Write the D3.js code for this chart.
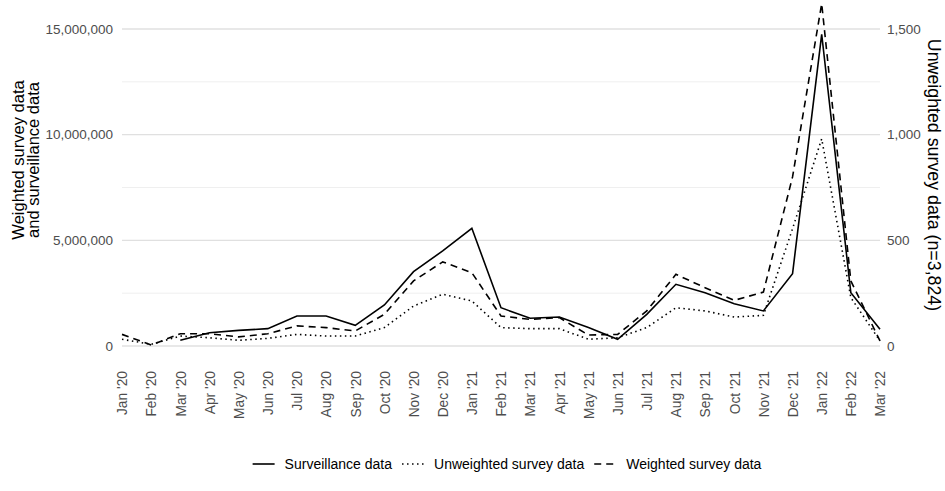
<!DOCTYPE html>
<html>
<head>
<meta charset="utf-8">
<script src="https://cdn.jsdelivr.net/npm/d3@7"></script>
<style>
  body { margin: 0; background: #fff; }
  svg { font-family: "Liberation Sans", Arial, sans-serif; }
</style>
</head>
<body>
<div id="chart"></div>
<script>
// months on the x axis
const months = ["Jan '20","Feb '20","Mar '20","Apr '20","May '20","Jun '20","Jul '20","Aug '20","Sep '20","Oct '20","Nov '20","Dec '20",
  "Jan '21","Feb '21","Mar '21","Apr '21","May '21","Jun '21","Jul '21","Aug '21","Sep '21","Oct '21","Nov '21","Dec '21",
  "Jan '22","Feb '22","Mar '22"];

// surveillance data (left axis), starts Mar '20
const surveillance = [null, null, 270000, 630000, 740000, 820000, 1420000, 1420000, 980000, 1940000, 3520000, 4500000,
  5570000, 1810000, 1310000, 1370000, 870000, 320000, 1500000, 2920000, 2520000, 2000000, 1660000, 3420000,
  14750000, 2520000, 790000];

// weighted survey data (left axis)
const weighted = [550000, 50000, 580000, 580000, 430000, 580000, 950000, 870000, 710000, 1500000, 3080000, 3980000,
  3470000, 1420000, 1260000, 1340000, 520000, 550000, 1660000, 3390000, 2760000, 2160000, 2550000, 8000000,
  16200000, 3080000, 240000];

// unweighted survey data (right axis, n=3,824)
const unweighted = [32, 8, 47, 39, 27, 36, 55, 47, 47, 87, 189, 245,
  213, 87, 82, 82, 32, 39, 87, 181, 166, 137, 145, 555,
  980, 229, 24];

const leftTicks = [0, 5000000, 10000000, 15000000];
const rightTicks = [0, 500, 1000, 1500];
const minorTicks = [2500000, 7500000, 12500000];

const legendItems = [
  {label: "Surveillance data", dash: null},
  {label: "Unweighted survey data", dash: "1.5,3.5"},
  {label: "Weighted survey data", dash: "7,5"}
];

const W = 945, H = 491;
const svg = d3.select("#chart").append("svg")
  .attr("width", W).attr("height", H);

const x = d3.scalePoint().domain(months).range([122, 880]);
const y = d3.scaleLinear().domain([0, 15000000]).range([346, 29]);
const yR = d3.scaleLinear().domain([0, 1500]).range([346, 29]);

// gridlines
svg.selectAll(".minor")
  .data(minorTicks)
  .join("line")
  .attr("x1", 122).attr("x2", 880)
  .attr("y1", d => y(d)).attr("y2", d => y(d))
  .attr("stroke", "#ebebeb").attr("stroke-width", 0.8);

svg.selectAll(".major")
  .data(leftTicks)
  .join("line")
  .attr("x1", 122).attr("x2", 880)
  .attr("y1", d => y(d)).attr("y2", d => y(d))
  .attr("stroke", "#e0e0e0").attr("stroke-width", 1.3);

// left axis
svg.append("g")
  .attr("transform", "translate(122,0)")
  .call(d3.axisLeft(y).tickValues(leftTicks).tickFormat(d3.format(",")).tickSize(0).tickPadding(9))
  .call(g => g.select(".domain").remove())
  .selectAll("text")
  .style("font-size", "13.5px")
  .style("font-family", "Liberation Sans, Arial, sans-serif")
  .attr("fill", "#4d4d4d");

// right axis
svg.append("g")
  .attr("transform", "translate(880,0)")
  .call(d3.axisRight(yR).tickValues(rightTicks).tickFormat(d3.format(",")).tickSize(0).tickPadding(7))
  .call(g => g.select(".domain").remove())
  .selectAll("text")
  .style("font-size", "13.5px")
  .style("font-family", "Liberation Sans, Arial, sans-serif")
  .attr("fill", "#4d4d4d");

// x axis labels, rotated
svg.append("g")
  .attr("transform", "translate(0,360)")
  .call(d3.axisBottom(x).tickSize(0).tickPadding(0))
  .call(g => g.select(".domain").remove())
  .selectAll("text")
  .style("font-size", "13.8px")
  .style("font-family", "Liberation Sans, Arial, sans-serif")
  .attr("fill", "#4d4d4d")
  .attr("text-anchor", "end")
  .attr("transform", "rotate(-90)")
  .attr("x", -11)
  .attr("y", 0)
  .attr("dy", "0.35em");

// lines
const line = d3.line()
  .defined(d => d != null)
  .x((d, i) => x(months[i]));

svg.append("path")
  .datum(surveillance)
  .attr("fill", "none").attr("stroke", "#000").attr("stroke-width", 1.6)
  .attr("d", line.y(d => y(d)));

svg.append("path")
  .datum(unweighted)
  .attr("fill", "none").attr("stroke", "#000").attr("stroke-width", 1.6)
  .attr("stroke-dasharray", "1.5,3.5")
  .attr("d", line.y(d => yR(d)));

svg.append("path")
  .datum(weighted)
  .attr("fill", "none").attr("stroke", "#000").attr("stroke-width", 1.6)
  .attr("stroke-dasharray", "7,5")
  .attr("d", line.y(d => y(d)));

// axis titles
const leftTitle = svg.append("text")
  .attr("transform", "translate(0,160) rotate(-90)")
  .attr("text-anchor", "middle")
  .style("font-size", "16.5px")
  .attr("fill", "#000");
leftTitle.append("tspan").attr("x", 0).attr("y", 24).text("Weighted survey data");
leftTitle.append("tspan").attr("x", 0).attr("y", 39).text("and surveillance data");

svg.append("text")
  .attr("transform", "translate(928,175) rotate(90)")
  .attr("text-anchor", "middle")
  .style("font-size", "17.8px")
  .attr("fill", "#000")
  .text("Unweighted survey data (n=3,824)");

// legend
const legend = svg.append("g").attr("transform", "translate(0,464)");
const items = legend.selectAll("g")
  .data(legendItems)
  .join("g");
items.append("line")
  .attr("x1", 0).attr("x2", 22)
  .attr("stroke", "#000").attr("stroke-width", 1.6)
  .attr("stroke-dasharray", d => d.dash);
items.append("text")
  .attr("x", 32).attr("dy", "0.35em")
  .style("font-size", "14px")
  .attr("fill", "#000")
  .text(d => d.label);

let widths = [];
items.each(function() { widths.push(32 + d3.select(this).select("text").node().getComputedTextLength()); });
const gap = 10;
const total = d3.sum(widths) + gap * (widths.length - 1);
let cx = 507 - total / 2;
items.attr("transform", (d, i) => {
  const t = `translate(${cx},0)`;
  cx += widths[i] + gap;
  return t;
});
</script>
</body>
</html>
